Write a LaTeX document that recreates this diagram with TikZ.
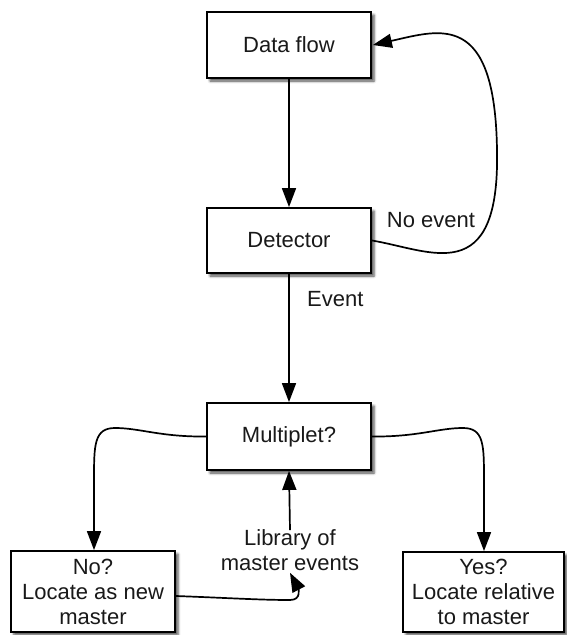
\documentclass[tikz,border=0pt]{standalone}
\usepackage{fontspec}
\setmainfont{Liberation Sans}
\usetikzlibrary{arrows.meta,shadows.blur}

\tikzset{
  box/.style={draw=black, fill=white, line width=1.8pt,
    minimum width=164pt, minimum height=66pt, align=center,
    inner sep=2pt,
    blur shadow={shadow xshift=3pt, shadow yshift=-3pt,
      shadow blur radius=2.5pt, shadow opacity=70}},
  lbl/.style={align=center, inner sep=0pt},
  arr/.style={line width=1.7pt, -{Triangle[length=19pt,width=14pt]}},
}

\begin{document}
\begin{tikzpicture}[x=1pt, y=-1pt,
  every node/.style={font=\fontsize{22}{25}\selectfont, text=black!90}]
  \useasboundingbox (0,0) rectangle (566,635);

  % process boxes
  \node[box] (data) at (289,45) {Data flow};
  \node[box, minimum height=65pt] (det) at (289,240.5) {Detector};
  \node[box, minimum height=67pt] (mult) at (289,436.5) {Multiplet?};
  \node[box, minimum height=81pt] (no) at (93,591.5)
    {No?\\Locate as new\\master};
  \node[box, minimum width=161pt, minimum height=80pt] (yes) at (483.5,592)
    {Yes?\\Locate relative\\to master};

  % free labels
  \node[lbl] (lib) at (290,550) {Library of\\master events};
  \node[lbl, anchor=west] (ev) at (307,299) {Event};
  \node[lbl] (noev) at (431,220) {No event};

  % main flow
  \draw[arr] (data.south) -- (det.north);
  \draw[arr] (det.south) -- (mult.north);

  % loop back when nothing is detected
  \draw[arr] (det.east) .. controls (430,250) and (500,290) ..
    (497,150) .. controls (495,10) and (440,30) .. ([xshift=1pt]data.east);

  % the two outcomes of the multiplet test
  \draw[arr] (mult.west) .. controls (160,437) and (140,428) ..
    (115,428) .. controls (94,428) and (94,445) .. (94,480) -- (no.north-|94,0);
  \draw[arr] (mult.east) .. controls (418,437) and (438,428) ..
    (463,428) .. controls (484,428) and (484,445) .. (484,480) -- (yes.north-|484,0);

  % master library feeding the test, and new masters feeding the library
  \draw[arr] ([yshift=-1pt]lib.north) -- (mult.south);
  \draw[arr] (no.east |- 0,596) .. controls (230,598) and (260,600) ..
    (290,600) .. controls (302,600) and (298,588) .. ([yshift=-2pt]lib.south);
\end{tikzpicture}
\end{document}
